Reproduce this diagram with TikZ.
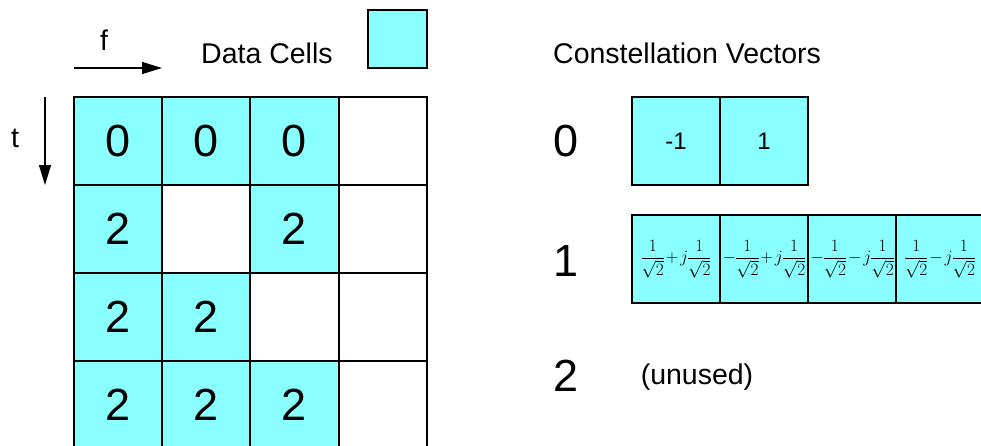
\documentclass[tikz,border=0pt]{standalone}
\usepackage{fontspec}
\setmainfont{Liberation Sans}
\usetikzlibrary{arrows.meta}
\definecolor{cellcyan}{RGB}{138,255,255}
\tikzset{
  gcell/.style={draw=black, line width=1.6pt, minimum width=88pt, minimum height=88pt, inner sep=0pt, font=\fontsize{45}{54}\selectfont},
  dcell/.style={gcell, fill=cellcyan},
  vcell/.style={draw=black, line width=1.6pt, fill=cellcyan, minimum width=88pt, minimum height=88pt, inner sep=0pt, font=\fontsize{24}{29}\selectfont},
  mcell/.style={vcell, font=\fontsize{16.5}{20}\selectfont},
  label/.style={inner sep=0pt, font=\fontsize{28.5}{34}\selectfont},
  biglabel/.style={inner sep=0pt, font=\fontsize{45}{54}\selectfont},
  axisarrow/.style={line width=1.3pt, -{Triangle[length=20pt,width=12pt]}}
}
\newcommand{\cvfrac}{\frac{1}{\sqrt{2}}}
\newcommand{\cvexpr}[1]{\raisebox{5pt}{$\medmuskip=2mu \nulldelimiterspace=0pt \displaystyle #1$}}
\begin{document}
\begin{tikzpicture}[x=1pt,y=-1pt]
\useasboundingbox (0,0) rectangle (981,445);
% axis arrows
\coordinate (fa) at (74,68);
\coordinate (fb) at (162,68);
\coordinate (ta) at (45,97);
\coordinate (tb) at (45,185);
\draw[axisarrow] (fa) -- (fb);
\draw[axisarrow] (ta) -- (tb);
\node[label, anchor=base] (flab) at (104,50) {f};
\node[label, anchor=base] (tlab) at (15,147) {t};
% legend
\node[label, anchor=base west] (dc) at (201,63) {Data Cells};
\node[draw=black, line width=1.4pt, fill=cellcyan, minimum width=59pt, minimum height=58pt, inner sep=0pt] (leg) at (397.5,39) {};
% grid
\node[dcell] (c00) at (118,141) {0};
\node[dcell] (c01) at (206,141) {0};
\node[dcell] (c02) at (294.5,141) {0};
\node[gcell] (c03) at (383,141) {};
\node[dcell] (c10) at (118,229) {2};
\node[gcell] (c11) at (206,229) {};
\node[dcell] (c12) at (294.5,229) {2};
\node[gcell] (c13) at (383,229) {};
\node[dcell] (c20) at (118,317) {2};
\node[dcell] (c21) at (206,317) {2};
\node[gcell] (c22) at (294.5,317) {};
\node[gcell] (c23) at (383,317) {};
\node[dcell] (c30) at (118,405) {2};
\node[dcell] (c31) at (206,405) {2};
\node[dcell] (c32) at (294.5,405) {2};
\node[gcell] (c33) at (383,405) {};
% constellation vectors
\node[label, anchor=base west] (cv) at (553,63) {Constellation Vectors};
\node[biglabel] (l0) at (566,141) {0};
\node[biglabel] (l1) at (566,261) {1};
\node[biglabel] (l2) at (566,376) {2};
\node[vcell] (v00) at (676,141) {-1};
\node[vcell] (v01) at (764,141) {1};
\node[mcell] (v10) at (676,259) {\cvexpr{\cvfrac+j\cvfrac}};
\node[mcell] (v11) at (764,259) {\cvexpr{-\cvfrac+j\cvfrac}};
\node[mcell] (v12) at (852,259) {\cvexpr{-\cvfrac-j\cvfrac}};
\node[mcell] (v13) at (940,259) {\cvexpr{\cvfrac-j\cvfrac}};
\node[label] (unused) at (697,377) {(unused)};
\end{tikzpicture}
\end{document}
